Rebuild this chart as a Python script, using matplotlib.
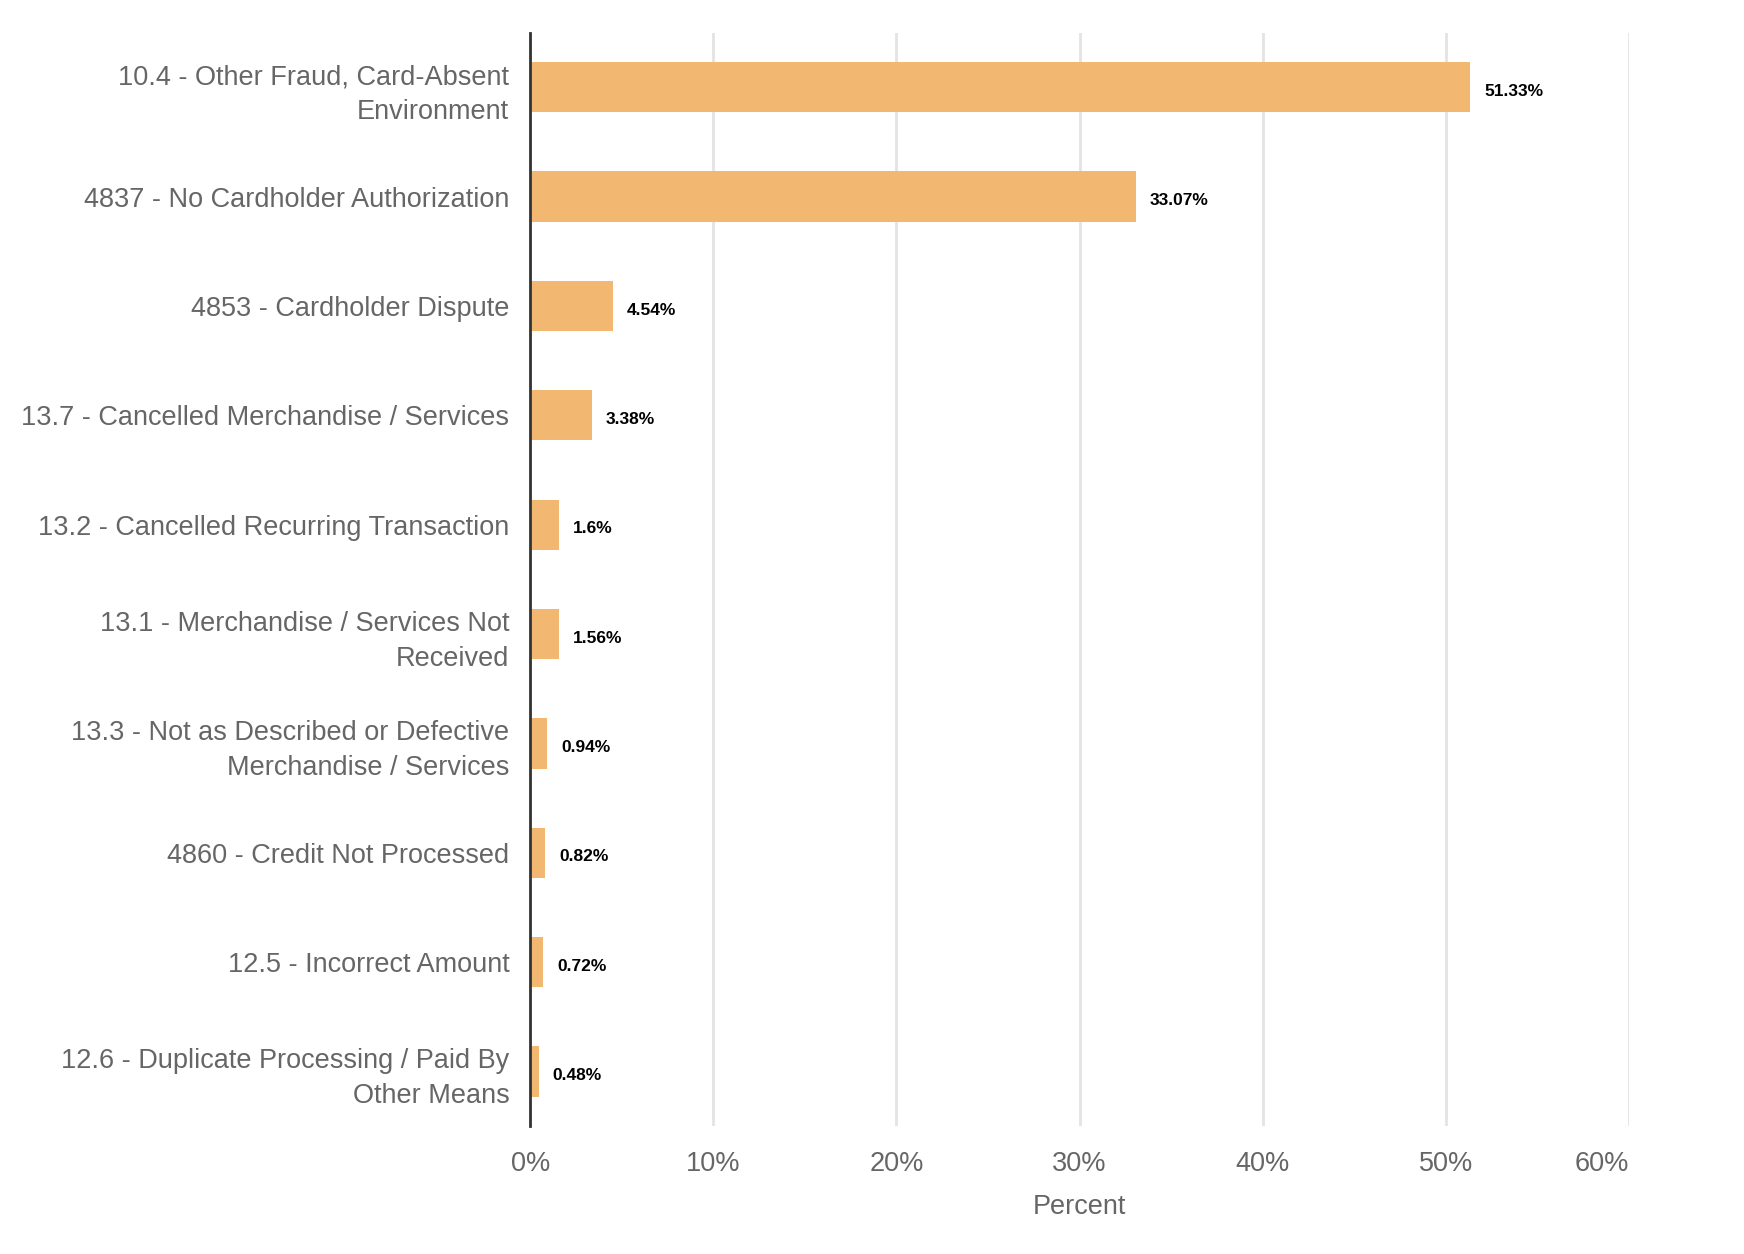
import matplotlib.pyplot as plt

reasons = [
    "10.4 - Other Fraud, Card-Absent\nEnvironment",
    "4837 - No Cardholder Authorization",
    "4853 - Cardholder Dispute",
    "13.7 - Cancelled Merchandise / Services",
    "13.2 - Cancelled Recurring Transaction",
    "13.1 - Merchandise / Services Not\nReceived",
    "13.3 - Not as Described or Defective\nMerchandise / Services",
    "4860 - Credit Not Processed",
    "12.5 - Incorrect Amount",
    "12.6 - Duplicate Processing / Paid By\nOther Means",
]
percents = [51.33, 33.07, 4.54, 3.38, 1.6, 1.56, 0.94, 0.82, 0.72, 0.48]
x_ticks = [0, 10, 20, 30, 40, 50, 60]

plt.rcParams['font.family'] = ['Liberation Sans', 'DejaVu Sans']

fig = plt.figure(figsize=(17.44, 12.54), dpi=100)
ax = fig.add_axes([0.304, 0.102, 0.630, 0.872])

ypos = list(range(len(reasons)))
ax.barh(ypos, percents, height=0.46, color='#f2b872', zorder=2)

for y, v in zip(ypos, percents):
    ax.annotate(f"{v:g}%", (v, y), xytext=(10, -3), textcoords='offset points',
                ha='left', va='center', fontsize=12.5, fontweight='bold', color='black')

ax.set_ylim(len(reasons) - 0.5, -0.5)
ax.set_xlim(0, 60)
ax.set_yticks(ypos)
ax.set_yticklabels(reasons, fontsize=19.5, color='#666666', linespacing=1.45)
ax.set_xticks(x_ticks)
ax.set_xticklabels([f"{t}%" for t in x_ticks], fontsize=19.5, color='#666666')
ax.get_xticklabels()[-1].set_horizontalalignment('right')
ax.tick_params(axis='y', length=0, pad=15)
ax.tick_params(axis='x', length=0, pad=18)
ax.set_xlabel('Percent', fontsize=19.5, color='#666666', labelpad=12)

ax.grid(axis='x', color='#e3e3e3', linewidth=2, zorder=0)
for side in ['top', 'right', 'bottom']:
    ax.spines[side].set_visible(False)
ax.spines['left'].set_color('#333333')
ax.spines['left'].set_linewidth(2)
ax.spines['left'].set_zorder(3)

fig.savefig('out.png', dpi=100)
